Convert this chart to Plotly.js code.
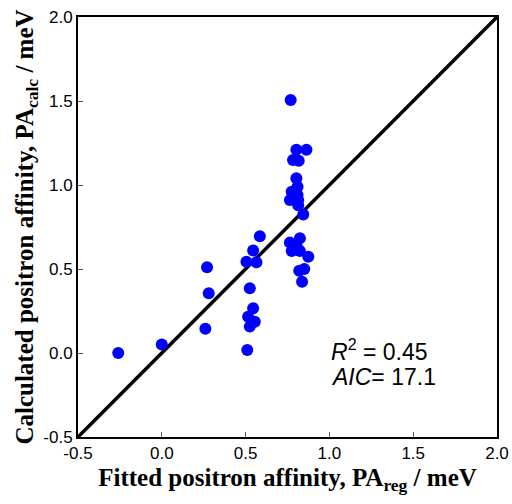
<!DOCTYPE html>
<html>
<head>
<meta charset="utf-8">
<script src="https://cdn.plot.ly/plotly-3.0.1.min.js"></script>
<style>html,body{margin:0;padding:0;background:#fff;}#chart{width:512px;height:504px;}</style>
</head>
<body>
<div id="chart"></div>
<script>
// Fitted (x) vs calculated (y) positron affinity, meV
const fittedPA = [-0.26, 0.00, 0.27, 0.28, 0.26,
  0.585, 0.545, 0.505, 0.565, 0.525, 0.545, 0.515, 0.555, 0.525, 0.51,
  0.769, 0.803, 0.863, 0.783, 0.817, 0.803, 0.81, 0.775, 0.81, 0.764, 0.814, 0.814, 0.844,
  0.764, 0.824, 0.804, 0.775, 0.824, 0.874, 0.82, 0.85, 0.837];
const calcPA = [0.00, 0.05, 0.51, 0.355, 0.145,
  0.695, 0.61, 0.543, 0.54, 0.385, 0.266, 0.216, 0.186, 0.157, 0.018,
  1.506, 1.21, 1.21, 1.149, 1.145, 1.04, 0.99, 0.96, 0.94, 0.91, 0.91, 0.88, 0.825,
  0.657, 0.683, 0.637, 0.607, 0.607, 0.573, 0.49, 0.50, 0.424];
const diagX = [-0.5, 2.0];
const diagY = [-0.5, 2.0];
const xTicks = [-0.5, 0.0, 0.5, 1.0, 1.5, 2.0];
const yTicks = [-0.5, 0.0, 0.5, 1.0, 1.5, 2.0];
const tickLabels = ['-0.5', '0.0', '0.5', '1.0', '1.5', '2.0'];
const statsText = ['<i>R</i><sup>2</sup> = 0.45', '<i>AIC</i>= 17.1'];

const traces = [
  {x: diagX, y: diagY, mode: 'lines', line: {color: '#000', width: 3.5}, hoverinfo: 'skip', showlegend: false},
  {x: fittedPA, y: calcPA, mode: 'markers', marker: {color: '#0000ff', size: 12}, showlegend: false}
];
const axisCommon = {
  range: [-0.5, 2.0], showgrid: false, zeroline: false, showline: true, mirror: true,
  linecolor: '#000', linewidth: 2, ticks: 'inside', ticklen: 5, tickcolor: '#555', tickwidth: 1,
  tickfont: {family: 'Liberation Sans, Arial, sans-serif', size: 17, color: '#000'}
};
const titleFont = {family: 'Liberation Serif, Times New Roman, serif', size: 25, color: '#000', weight: 'bold'};
const layout = {
  width: 512, height: 504,
  margin: {l: 78, r: 15, t: 17, b: 67},
  paper_bgcolor: '#fff', plot_bgcolor: '#fff',
  xaxis: Object.assign({}, axisCommon, {
    tickvals: xTicks, ticktext: tickLabels,
    title: {text: 'Fitted positron affinity, PA<sub>reg</sub> / meV', standoff: 6, font: titleFont}
  }),
  yaxis: Object.assign({}, axisCommon, {
    tickvals: yTicks, ticktext: tickLabels,
    title: {text: 'Calculated positron affinity, PA<sub>calc</sub> / meV', standoff: 3, font: titleFont}
  }),
  annotations: [
    {x: 1.0, y: 0.02, xref: 'x', yref: 'y', xanchor: 'left', yanchor: 'middle', showarrow: false,
     text: statsText[0], font: {family: 'Liberation Sans, Arial, sans-serif', size: 23, color: '#000'}},
    {x: 1.0, y: -0.14, xref: 'x', yref: 'y', xanchor: 'left', yanchor: 'middle', showarrow: false,
     text: statsText[1], font: {family: 'Liberation Sans, Arial, sans-serif', size: 23, color: '#000'}}
  ]
};
Plotly.newPlot('chart', traces, layout, {displayModeBar: false, staticPlot: true});
</script>
</body>
</html>
